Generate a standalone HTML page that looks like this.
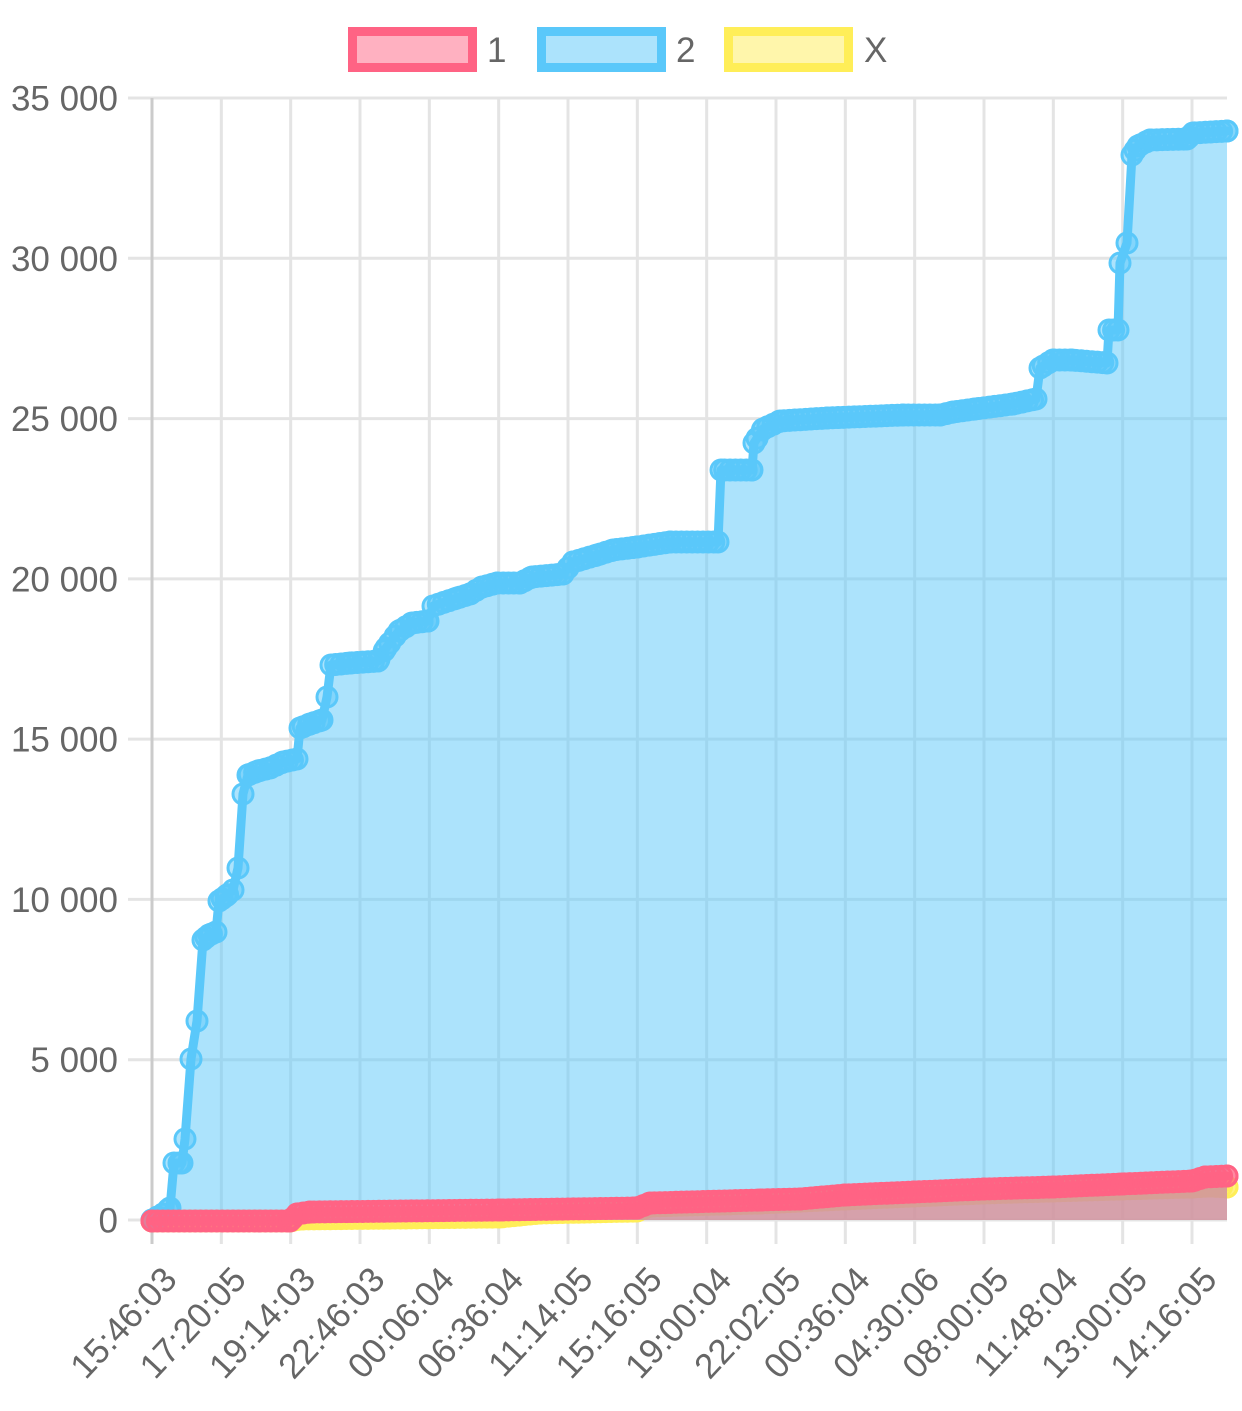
<!DOCTYPE html>
<html><head><meta charset="utf-8">
<style>
html,body{margin:0;padding:0;background:#fff;}
svg{display:block;}
text{font-family:"Liberation Sans",Arial,sans-serif;fill:#666;font-size:35px;}
</style></head>
<body>
<svg id="c" width="1242" height="1411" viewBox="0 0 1242 1411" xmlns="http://www.w3.org/2000/svg">
<!-- legend -->
<rect x="352.5" y="31.5" width="120" height="36" fill="rgba(255,99,132,0.5)" stroke="#FF6384" stroke-width="9"/>
<text x="487" y="62">1</text>
<rect x="541.5" y="31.5" width="120" height="36" fill="rgba(90,200,250,0.5)" stroke="#5AC8FA" stroke-width="9"/>
<text x="676" y="62">2</text>
<rect x="728.5" y="31.5" width="120" height="36" fill="rgba(255,238,88,0.5)" stroke="#FFEE58" stroke-width="9"/>
<text x="864" y="62">X</text>

<!-- grid -->
<g stroke="#e4e4e4" stroke-width="3">
<line x1="221.33" y1="98" x2="221.33" y2="1244"/>
<line x1="290.67" y1="98" x2="290.67" y2="1244"/>
<line x1="360" y1="98" x2="360" y2="1244"/>
<line x1="429.33" y1="98" x2="429.33" y2="1244"/>
<line x1="498.67" y1="98" x2="498.67" y2="1244"/>
<line x1="568" y1="98" x2="568" y2="1244"/>
<line x1="637.33" y1="98" x2="637.33" y2="1244"/>
<line x1="706.67" y1="98" x2="706.67" y2="1244"/>
<line x1="776" y1="98" x2="776" y2="1244"/>
<line x1="845.33" y1="98" x2="845.33" y2="1244"/>
<line x1="914.67" y1="98" x2="914.67" y2="1244"/>
<line x1="984" y1="98" x2="984" y2="1244"/>
<line x1="1053.33" y1="98" x2="1053.33" y2="1244"/>
<line x1="1122.67" y1="98" x2="1122.67" y2="1244"/>
<line x1="1192" y1="98" x2="1192" y2="1244"/>
<line x1="128" y1="1220" x2="1227" y2="1220"/>
<line x1="128" y1="1059.71" x2="1227" y2="1059.71"/>
<line x1="128" y1="899.43" x2="1227" y2="899.43"/>
<line x1="128" y1="739.14" x2="1227" y2="739.14"/>
<line x1="128" y1="578.86" x2="1227" y2="578.86"/>
<line x1="128" y1="418.57" x2="1227" y2="418.57"/>
<line x1="128" y1="258.29" x2="1227" y2="258.29"/>
<line x1="128" y1="98" x2="1227" y2="98"/>
</g>
<line x1="152" y1="98" x2="152" y2="1244" stroke="#cbcbcb" stroke-width="3"/>

<!-- y labels -->
<g text-anchor="end">
<text x="118" y="110.5">35 000</text>
<text x="118" y="270.79">30 000</text>
<text x="118" y="431.07">25 000</text>
<text x="118" y="591.36">20 000</text>
<text x="118" y="751.64">15 000</text>
<text x="118" y="911.93">10 000</text>
<text x="118" y="1072.21">5 000</text>
<text x="118" y="1232.5">0</text>
</g>

<!-- data -->
<g id="data"></g>

<!-- x labels -->
<g text-anchor="end">
<text transform="translate(178.6,1281) rotate(-47)">15:46:03</text>
<text transform="translate(247.93,1281) rotate(-47)">17:20:05</text>
<text transform="translate(317.27,1281) rotate(-47)">19:14:03</text>
<text transform="translate(386.6,1281) rotate(-47)">22:46:03</text>
<text transform="translate(455.93,1281) rotate(-47)">00:06:04</text>
<text transform="translate(525.27,1281) rotate(-47)">06:36:04</text>
<text transform="translate(594.6,1281) rotate(-47)">11:14:05</text>
<text transform="translate(663.93,1281) rotate(-47)">15:16:05</text>
<text transform="translate(733.27,1281) rotate(-47)">19:00:04</text>
<text transform="translate(802.6,1281) rotate(-47)">22:02:05</text>
<text transform="translate(871.93,1281) rotate(-47)">00:36:04</text>
<text transform="translate(941.27,1281) rotate(-47)">04:30:06</text>
<text transform="translate(1010.6,1281) rotate(-47)">08:00:05</text>
<text transform="translate(1079.93,1281) rotate(-47)">11:48:04</text>
<text transform="translate(1149.27,1281) rotate(-47)">13:00:05</text>
<text transform="translate(1218.6,1281) rotate(-47)">14:16:05</text>
</g>
</svg>
<script>
(function(){
var NS="http://www.w3.org/2000/svg";
var X0=152,X1=1227,N=200,dx=(X1-X0)/(N-1),BASE=1220;
var blue=[[152,1220],[163,1214],[170,1208],[174,1163],[182,1163],[185,1139],[191,1059],[197,1021],[203,940],[209,935],[216,932],[219,901],[226,896],[233,890],[238,868],[243,794],[248,775],[258,771],[270,768],[283,762],[297,759],[300,728],[310,724],[322,720],[327,697],[331,665],[350,663],[378,661],[386,648],[399,631],[412,623],[428,621],[433,606],[457,598],[470,594],[482,587],[497,583],[520,583],[532,577],[563,574],[573,562],[597,555],[613,550],[637,547],[670,542],[718,542],[721,470],[752,470],[754,443],[763,429],[780,421],[827,418],[903,415],[940,415],[953,412],[975,409],[1013,404],[1036,399],[1040,368],[1053,360],[1072,360],[1107,363],[1109,330],[1118,330],[1120,263],[1127,243],[1132,155],[1138,146],[1150,140],[1187,139],[1193,133],[1227,131]];
var pink=[[152,1221],[290,1221],[297,1214],[310,1212],[500,1210],[637,1208],[650,1203],[760,1200],[800,1199],[845,1195],[914,1192],[984,1189],[1053,1187],[1122,1184],[1192,1181],[1205,1177],[1227,1176]];
var yellow=[[152,1221],[290,1221],[300,1219],[500,1217],[540,1213],[637,1211],[650,1206],[760,1203],[845,1199],[914,1196],[984,1193],[1053,1191],[1122,1189],[1192,1187],[1210,1186],[1227,1187]];
var g=document.getElementById('data');
function el(n,a){var e=document.createElementNS(NS,n);for(var k in a)e.setAttribute(k,a[k]);g.appendChild(e);return e;}
function seg(kp,x){for(var i=0;i<kp.length-1;i++){var a=kp[i],b=kp[i+1];if(x<=b[0]){return [a,b];}}return [kp[kp.length-2],kp[kp.length-1]];}
function draw(kp,color,fill){
  var s=kp.map(function(p){return p[0]+','+p[1];}).join(' ');
  el('polygon',{points:s+' '+X1+','+BASE+' '+X0+','+BASE,fill:fill,stroke:'none'});
  el('polyline',{points:s,fill:'none',stroke:color,'stroke-width':9,'stroke-linejoin':'round','stroke-linecap':'round'});
  var pts=[];
  for(var i=0;i<N;i++){
    var x=X0+i*dx; var sg=seg(kp,x); var a=sg[0],b=sg[1];
    var w=b[0]-a[0]; if(w<=0) continue;
    var slope=Math.abs((b[1]-a[1])/w);
    if(slope<2.5){var t=(x-a[0])/w;pts.push([x,a[1]+t*(b[1]-a[1])]);}
  }
  kp.forEach(function(p){pts.push(p);});
  pts.sort(function(p,q){return p[0]-q[0];});
  pts.forEach(function(p){el('circle',{cx:p[0].toFixed(2),cy:p[1].toFixed(2),r:10,fill:fill,stroke:color,'stroke-width':3});});
}
draw(yellow,'#FFEE58','rgba(255,238,88,0.5)');
draw(blue,'#5AC8FA','rgba(90,200,250,0.5)');
draw(pink,'#FF6384','rgba(255,99,132,0.5)');
})();
</script>
</body></html>
